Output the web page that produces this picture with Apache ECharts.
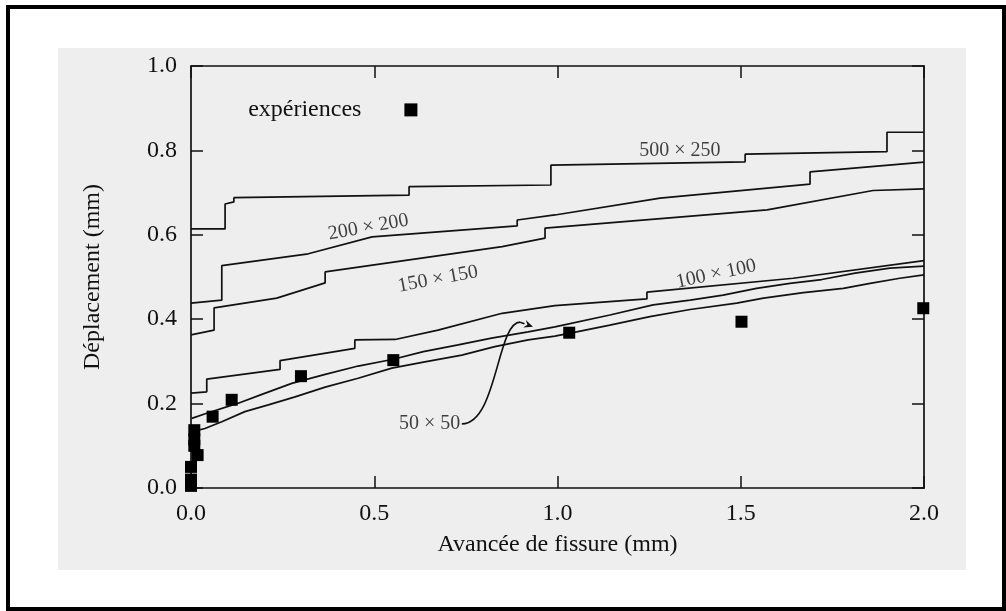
<!DOCTYPE html>
<html>
<head>
<meta charset="utf-8">
<script src="https://cdn.jsdelivr.net/npm/echarts@6/dist/echarts.min.js"></script>
<style>
  html, body { margin: 0; padding: 0; background: #ffffff; }
  #wrap { position: relative; width: 1006px; height: 611px; overflow: hidden; }
  #frame { position: absolute; left: 6px; top: 5px; width: 992px; height: 598px; border: 4px solid #000; }
  #paper { position: absolute; left: 58px; top: 48px; width: 908px; height: 522px; background: #eeeeee; }
  #chart { position: absolute; left: 0; top: 0; width: 1006px; height: 611px; }
</style>
</head>
<body>
<div id="wrap">
  <div id="frame"></div>
  <div id="paper"></div>
  <div id="chart"></div>
</div>
<script>
// ---- data ----
const xTickLabels = ['0.0', '0.5', '1.0', '1.5', '2.0'];
const yTickLabels = ['0.0', '0.2', '0.4', '0.6', '0.8', '1.0'];

const mesh500x250 = [[0,0.614],[0.093,0.614],[0.093,0.673],[0.117,0.678],[0.117,0.688],[0.595,0.694],[0.595,0.714],[0.982,0.718],[0.982,0.765],[1.512,0.773],[1.512,0.791],[1.899,0.797],[1.899,0.843],[2.0,0.843]];
const mesh200x200 = [[0,0.438],[0.084,0.445],[0.084,0.527],[0.32,0.555],[0.494,0.595],[0.89,0.621],[0.89,0.635],[0.993,0.647],[1.28,0.687],[1.689,0.720],[1.689,0.749],[2.0,0.772]];
const mesh150x150 = [[0,0.363],[0.063,0.374],[0.063,0.427],[0.234,0.450],[0.366,0.486],[0.366,0.512],[0.849,0.572],[0.966,0.592],[0.966,0.616],[1.572,0.659],[1.861,0.705],[2.0,0.709]];
const mesh100x100 = [[0,0.225],[0.043,0.228],[0.043,0.258],[0.243,0.281],[0.243,0.302],[0.447,0.331],[0.447,0.351],[0.557,0.352],[0.674,0.374],[0.849,0.414],[0.993,0.432],[1.244,0.448],[1.244,0.464],[1.643,0.497],[2.0,0.539]];
const mesh50x50a = [[0.002,0.165],[0.043,0.177],[0.129,0.201],[0.188,0.220],[0.275,0.248],[0.361,0.268],[0.456,0.289],[0.552,0.305],[0.634,0.323],[0.729,0.339],[0.82,0.355],[0.92,0.370],[0.993,0.382],[1.143,0.410],[1.261,0.434],[1.362,0.445],[1.452,0.457],[1.543,0.473],[1.634,0.485],[1.721,0.494],[1.812,0.509],[1.907,0.521],[2.0,0.526]];
const mesh50x50b = [[0.002,0.133],[0.038,0.141],[0.084,0.157],[0.147,0.181],[0.211,0.197],[0.284,0.216],[0.366,0.239],[0.456,0.260],[0.548,0.284],[0.638,0.299],[0.739,0.315],[0.829,0.335],[0.92,0.351],[0.993,0.360],[1.052,0.370],[1.143,0.386],[1.252,0.406],[1.362,0.423],[1.489,0.438],[1.562,0.450],[1.671,0.463],[1.78,0.473],[1.853,0.485],[1.934,0.497],[2.0,0.505]];

const expX = [0, 0, 0, 0.018, 0.009, 0.009, 0.009, 0.059, 0.111, 0.30, 0.552, 1.032, 1.502, 1.998];
const expY = [0.005, 0.02, 0.05, 0.078, 0.10, 0.115, 0.137, 0.169, 0.209, 0.265, 0.303, 0.368, 0.394, 0.426];

const legendPoint = [0.6, 0.896];
const legendText = 'expériences';

const curveLabelText = ['500 × 250', '200 × 200', '150 × 150', '100 × 100', '50 × 50'];
const curveLabelX = [1.334, 0.484, 0.674, 1.433, 0.651];
const curveLabelY = [0.799, 0.618, 0.495, 0.507, 0.152];
const curveLabelRot = [0, 10, 10.5, 12, 0];

// arrow from the "50 × 50" label to the curves (data coordinates)
const arrowPath = [[0.739,0.152],[0.835,0.152],[0.835,0.393],[0.898,0.393],[0.933,0.382]];

// ---- chart ----
const FONT = "'Liberation Serif', 'DejaVu Serif', serif";
const INK = '#111111';
const chart = echarts.init(document.getElementById('chart'), null, { renderer: 'canvas' });

function lineSeries(name, data) {
  return {
    name: name, type: 'line', data: data, symbol: 'none', silent: true,
    lineStyle: { color: INK, width: 1.7 }, z: 3, clip: false
  };
}

const axisCommon = {
  type: 'value',
  axisLine: { show: true, onZero: false, lineStyle: { color: INK, width: 1.7 } },
  axisTick: { show: true, inside: true, length: 12, lineStyle: { color: INK, width: 1.5 } },
  splitLine: { show: false }
};

const option = {
  animation: false,
  grid: { left: 191, top: 66, right: 82, bottom: 123, containLabel: false },
  xAxis: [
    Object.assign({}, axisCommon, {
      position: 'bottom', min: 0, max: 2, interval: 0.5,
      axisLabel: { show: true, margin: 14, fontFamily: FONT, fontSize: 24, color: '#111',
        formatter: (v, i) => xTickLabels[i] },
      name: 'Avancée de fissure (mm)', nameLocation: 'middle', nameGap: 45,
      nameTextStyle: { fontFamily: FONT, fontSize: 24, color: '#111' }
    }),
    Object.assign({}, axisCommon, {
      position: 'top', min: 0, max: 2, interval: 0.5, axisLabel: { show: false }
    })
  ],
  yAxis: [
    Object.assign({}, axisCommon, {
      position: 'left', min: 0, max: 1, interval: 0.2,
      axisLabel: { show: true, margin: 14, fontFamily: FONT, fontSize: 24, color: '#111',
        formatter: (v, i) => yTickLabels[i] },
      name: 'Déplacement (mm)', nameLocation: 'middle', nameGap: 86, nameRotate: 90,
      nameTextStyle: { fontFamily: FONT, fontSize: 24, color: '#111' }
    }),
    Object.assign({}, axisCommon, {
      position: 'right', min: 0, max: 1, interval: 0.2, axisLabel: { show: false }
    })
  ],
  series: [
    lineSeries('500 × 250', mesh500x250),
    lineSeries('200 × 200', mesh200x200),
    lineSeries('150 × 150', mesh150x150),
    lineSeries('100 × 100', mesh100x100),
    lineSeries('50 × 50', mesh50x50a),
    lineSeries('50 × 50 (2)', mesh50x50b),
    {
      name: 'expériences', type: 'scatter', symbol: 'rect', symbolSize: 12,
      itemStyle: { color: '#000', opacity: 1 }, z: 5, clip: false,
      data: expX.map((x, i) => [x, expY[i]])
    },
    {
      name: 'légende', type: 'scatter', symbol: 'rect', symbolSize: 13,
      itemStyle: { color: '#000', opacity: 1 }, z: 5,
      data: [legendPoint],
      label: { show: true, position: 'left', distance: 43, formatter: legendText,
        fontFamily: FONT, fontSize: 24, color: '#111' }
    },
    {
      name: 'étiquettes', type: 'scatter', symbolSize: 1, silent: true, z: 6,
      itemStyle: { color: 'rgba(0,0,0,0)' },
      data: curveLabelText.map((t, i) => ({
        name: t, value: [curveLabelX[i], curveLabelY[i]],
        label: { rotate: curveLabelRot[i] }
      })),
      label: { show: true, position: 'inside', formatter: '{b}',
        fontFamily: FONT, fontSize: 20, color: '#111' }
    },
    {
      name: 'flèche', type: 'custom', silent: true, z: 6, clip: false,
      data: [arrowPath[0]],
      renderItem: function (params, api) {
        const p = arrowPath.map(pt => api.coord(pt));
        const tip = p[4], from = p[3];
        const ang = Math.atan2(tip[1] - from[1], tip[0] - from[0]);
        const L = 9, W = 4;
        const bx = tip[0] - L * Math.cos(ang), by = tip[1] - L * Math.sin(ang);
        const nx = -Math.sin(ang) * W, ny = Math.cos(ang) * W;
        return {
          type: 'group',
          children: [
            { type: 'bezierCurve',
              shape: { x1: p[0][0], y1: p[0][1], cpx1: p[1][0], cpy1: p[1][1],
                       cpx2: p[2][0], cpy2: p[2][1], x2: p[3][0], y2: p[3][1] },
              style: { stroke: INK, lineWidth: 1.6, fill: null } },
            { type: 'line',
              shape: { x1: p[3][0], y1: p[3][1], x2: bx, y2: by },
              style: { stroke: INK, lineWidth: 1.6 } },
            { type: 'polygon',
              shape: { points: [[tip[0], tip[1]], [bx + nx, by + ny], [bx + 0.35*(tip[0]-bx), by + 0.35*(tip[1]-by)], [bx - nx, by - ny]] },
              style: { fill: INK } }
          ]
        };
      }
    }
  ]
};
chart.setOption(option);
</script>
</body>
</html>
